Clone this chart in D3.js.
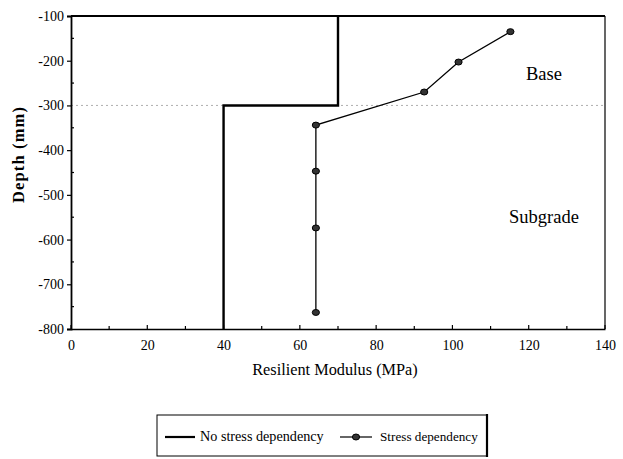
<!DOCTYPE html>
<html>
<head>
<meta charset="utf-8">
<script src="https://cdn.jsdelivr.net/npm/d3@7"></script>
<style>
  body { margin: 0; background: #fff; }
</style>
</head>
<body>
<script>
// values
let stepModulus = [70, 70, 40, 40];
let stepDepth = [-100, -300, -300, -800];

let stressModulus = [115.2, 101.6, 92.6, 64.2, 64.2, 64.2, 64.2];
let stressDepth = [-135, -203, -270, -344, -447, -574, -763];

let xTicks = [0, 20, 40, 60, 80, 100, 120, 140];
let yTicks = [-100, -200, -300, -400, -500, -600, -700, -800];
let layerBoundary = -300;

let w = 623;
let h = 459;
let serif = '"Liberation Serif", "Times New Roman", serif';

let svg = d3.select('body').append('svg').attr('width', w).attr('height', h);

let xScale = d3.scaleLinear().domain([0, 140]).range([71, 605]);
let yScale = d3.scaleLinear().domain([-800, -100]).range([329, 16]);

// layer boundary, dotted grey
svg.append('line')
  .attr('x1', xScale(0)).attr('x2', xScale(140))
  .attr('y1', yScale(layerBoundary)).attr('y2', yScale(layerBoundary))
  .style('stroke', '#999').style('stroke-width', 0.8)
  .style('stroke-dasharray', '2,3');

// frame: top thick, right thin
svg.append('line')
  .attr('x1', xScale(0)).attr('x2', xScale(140))
  .attr('y1', yScale(-100)).attr('y2', yScale(-100))
  .style('stroke', '#000').style('stroke-width', 2);
svg.append('line')
  .attr('x1', xScale(140)).attr('x2', xScale(140))
  .attr('y1', yScale(-100)).attr('y2', yScale(-800))
  .style('stroke', '#000').style('stroke-width', 1.2);

// x axis, ticks pointing up
let xAxis = d3.axisBottom(xScale).tickValues(xTicks).tickSize(0).tickPadding(11)
  .tickFormat((d) => String(d));
let xAxisGroup = svg.append('g')
  .attr('transform', `translate(0, ${yScale(-800)})`)
  .call(xAxis)
  .attr('font-family', serif).attr('font-size', 14);
xAxisGroup.select('.domain').style('stroke-width', 1.6);
svg.append('g').selectAll('line')
  .data(d3.range(0, 141, 10))
  .enter().append('line')
  .attr('x1', (d) => xScale(d)).attr('x2', (d) => xScale(d))
  .attr('y1', yScale(-800)).attr('y2', (d) => yScale(-800) - (d % 20 === 0 ? 4 : 3))
  .style('stroke', '#000').style('stroke-width', 1.2);

// y axis
let yAxis = d3.axisLeft(yScale).tickValues(yTicks).tickSize(4).tickPadding(3)
  .tickFormat((d) => String(d));
let yAxisGroup = svg.append('g')
  .attr('transform', `translate(${xScale(0)}, 0)`)
  .call(yAxis)
  .attr('font-family', serif).attr('font-size', 14);
yAxisGroup.select('.domain').style('stroke-width', 1.8);
yAxisGroup.selectAll('.tick line').style('stroke-width', 1.2);
svg.append('g').selectAll('line')
  .data(d3.range(-150, -800, -100))
  .enter().append('line')
  .attr('x1', xScale(0)).attr('x2', xScale(0) + 3)
  .attr('y1', (d) => yScale(d)).attr('y2', (d) => yScale(d))
  .style('stroke', '#000').style('stroke-width', 1.2);

// axis titles
svg.append('text')
  .attr('x', 335).attr('y', 375)
  .attr('text-anchor', 'middle')
  .attr('font-family', serif).attr('font-size', 16.3)
  .text('Resilient Modulus (MPa)');
svg.append('text')
  .attr('transform', 'translate(24, 155) rotate(-90)')
  .attr('text-anchor', 'middle')
  .attr('font-family', serif).attr('font-size', 16.5)
  .attr('font-weight', 'bold')
  .attr('textLength', 96).attr('lengthAdjust', 'spacing')
  .text('Depth (mm)');

// no stress dependency: step line
let stepData = stepModulus.map((m, i) => ({ m: m, d: stepDepth[i] }));
let line = d3.line().x((d) => xScale(d.m)).y((d) => yScale(d.d));
svg.append('path')
  .datum(stepData)
  .attr('d', line)
  .style('fill', 'none').style('stroke', '#000').style('stroke-width', 2.4);

// stress dependency: line with markers
let stressData = stressModulus.map((m, i) => ({ m: m, d: stressDepth[i] }));
svg.append('path')
  .datum(stressData)
  .attr('d', line)
  .style('fill', 'none').style('stroke', '#000').style('stroke-width', 1.3);
svg.selectAll('.pts')
  .data(stressData)
  .enter().append('ellipse')
  .classed('pts', true)
  .attr('cx', (d) => xScale(d.m)).attr('cy', (d) => yScale(d.d))
  .attr('rx', 3.6).attr('ry', 3)
  .style('fill', '#333').style('stroke', '#000').style('stroke-width', 1);

// layer names
svg.append('text').attr('x', 544).attr('y', 80).attr('text-anchor', 'middle')
  .attr('font-family', serif).attr('font-size', 18.5).text('Base');
svg.append('text').attr('x', 544).attr('y', 223).attr('text-anchor', 'middle')
  .attr('font-family', serif).attr('font-size', 18.5).text('Subgrade');

// legend
let lg = svg.append('g').attr('font-family', serif).attr('font-size', 14.2);
lg.append('rect')
  .attr('x', 157).attr('y', 415).attr('width', 330).attr('height', 41)
  .style('fill', 'none').style('stroke', '#000').style('stroke-width', 1);
lg.append('line')
  .attr('x1', 487).attr('x2', 487).attr('y1', 414).attr('y2', 457)
  .style('stroke', '#000').style('stroke-width', 2.2);
lg.append('line')
  .attr('x1', 165).attr('x2', 195).attr('y1', 437).attr('y2', 437)
  .style('stroke', '#000').style('stroke-width', 2.2);
lg.append('text').attr('x', 200).attr('y', 441).text('No stress dependency');
lg.append('line')
  .attr('x1', 340).attr('x2', 372).attr('y1', 437).attr('y2', 437)
  .style('stroke', '#000').style('stroke-width', 1.2);
lg.append('ellipse')
  .attr('cx', 356).attr('cy', 437).attr('rx', 3.6).attr('ry', 3)
  .style('fill', '#333').style('stroke', '#000');
lg.append('text').attr('x', 380).attr('y', 441).attr('font-size', 13.2)
  .text('Stress dependency');
</script>
</body>
</html>
